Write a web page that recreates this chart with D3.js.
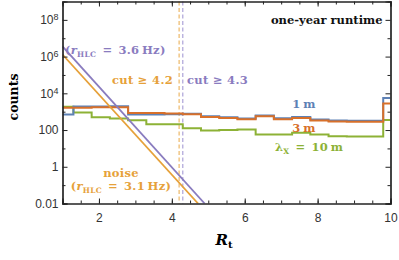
<!DOCTYPE html>
<html>
<head>
<meta charset="utf-8">
<script src="https://cdn.jsdelivr.net/npm/d3@7"></script>
<style>
  body { margin: 0; background: #fff; }
  .tickText { font-family: "Liberation Sans", Arial, sans-serif; font-size: 12px; fill: #333; }
  .lbl { font-family: "DejaVu Serif", serif; font-weight: bold; }
</style>
</head>
<body>
<div id="chart"></div>
<script>
// Histogram bins of R_t (edges), one count per bin
var binEdges = [1, 1.3, 1.8, 2.3, 2.8, 3.3, 3.8, 4.3, 4.8, 5.3, 5.8, 6.3, 6.8, 7.3, 7.8, 8.3, 8.8, 9.3, 9.8, 10];
var counts1m = [700, 1900, 1900, 1950, 700, 700, 720, 760, 560, 500, 420, 620, 440, 520, 370, 330, 320, 320, 5600];
var counts3m = [1650, 1650, 1750, 1750, 850, 850, 800, 720, 514, 460, 390, 560, 390, 460, 330, 290, 280, 280, 2800];
var counts10m = [1870, 900, 500, 426, 340, 205, 205, 125, 95, 100, 107, 58, 57, 72, 58, 46, 45, 45, 350];

// noise lines (straight on the log axis), end points
var noise36 = [[1, 3.6e6], [4.9, 0.01]];
var noise31 = [[1, 1.3e6], [4.72, 0.01]];

// cut values
var cutOrange = 4.2;
var cutPurple = 4.3;

// ticks
var xTickValues = [2, 4, 6, 8, 10];
var xMinorTicks = d3.range(1.5, 10, 0.5);
var yTickValues = [0.01, 1, 100, 1e4, 1e6, 1e8];
var yTickLabels = [["0.01", ""], ["1", ""], ["100", ""], ["10", "4"], ["10", "6"], ["10", "8"]];
var yMinorTicks = [0.1, 10, 1e3, 1e5, 1e7];

var width = 399;
var height = 260;
var plotL = 62.5, plotR = 390.5, plotT = 1.5, plotB = 203.5;

var blue = "#5e81b5";
var rust = "#d8702a";
var green = "#8db236";
var purple = "#8a7cbf";
var gold = "#e6a13a";

var svg = d3.select("#chart")
  .append("svg")
  .attr("width", width)
  .attr("height", height);

var xScale = d3.scaleLinear().domain([1, 10]).range([plotL, plotR]);
var yScale = d3.scaleLog().domain([0.01, 1e9]).range([plotB, plotT]);

svg.append("clipPath").attr("id", "plotClip")
  .append("rect")
  .attr("x", plotL).attr("y", plotT)
  .attr("width", plotR - plotL).attr("height", plotB - plotT);

// dashed cut lines
[[cutOrange, "#efbd72"], [cutPurple, "#b3aadb"]].forEach(function(c) {
  svg.append("line")
    .attr("x1", xScale(c[0])).attr("x2", xScale(c[0]))
    .attr("y1", plotT).attr("y2", plotB)
    .attr("stroke", c[1])
    .attr("stroke-width", 1.3)
    .attr("stroke-dasharray", "4,2.5");
});

// histograms as step lines
function stepData(counts) {
  var pts = counts.map(function(c, i) { return [binEdges[i], c]; });
  pts.push([binEdges[binEdges.length - 1], counts[counts.length - 1]]);
  return pts;
}
var stepLine = d3.line()
  .x(function(d) { return xScale(d[0]); })
  .y(function(d) { return yScale(d[1]); })
  .curve(d3.curveStepAfter);

var plot = svg.append("g").attr("clip-path", "url(#plotClip)");

[[counts10m, green], [counts1m, blue], [counts3m, rust]].forEach(function(h) {
  plot.append("path")
    .datum(stepData(h[0]))
    .attr("d", stepLine)
    .attr("fill", "none")
    .attr("stroke", h[1])
    .attr("stroke-width", 2);
});

// noise lines
var straight = d3.line()
  .x(function(d) { return xScale(d[0]); })
  .y(function(d) { return yScale(d[1]); });

[[noise31, gold], [noise36, purple]].forEach(function(n) {
  plot.append("path")
    .datum(n[0])
    .attr("d", straight)
    .attr("fill", "none")
    .attr("stroke", n[1])
    .attr("stroke-width", 1.8);
});

// frame and ticks
function frameAxis(axis, tx, ty) {
  var g = svg.append("g")
    .attr("transform", "translate(" + tx + "," + ty + ")")
    .call(axis);
  g.select(".domain").attr("stroke", "#222").attr("stroke-width", 1.2);
  g.selectAll(".tick line").attr("stroke", "#222");
  return g;
}

// minor ticks first (no labels)
frameAxis(d3.axisBottom(xScale).tickValues(xMinorTicks).tickSize(-3).tickFormat(""), 0, plotB);
frameAxis(d3.axisTop(xScale).tickValues(xMinorTicks).tickSize(-3).tickFormat(""), 0, plotT);
frameAxis(d3.axisLeft(yScale).tickValues(yMinorTicks).tickSize(-3).tickFormat(""), plotL, 0);
frameAxis(d3.axisRight(yScale).tickValues(yMinorTicks).tickSize(-3).tickFormat(""), plotR, 0);

var xAxisG = frameAxis(d3.axisBottom(xScale).tickValues(xTickValues).tickSize(-5).tickPadding(10), 0, plotB);
xAxisG.selectAll("text").attr("class", "tickText").attr("font-size", null).attr("font-family", null);
frameAxis(d3.axisTop(xScale).tickValues(xTickValues).tickSize(-5).tickFormat(""), 0, plotT);
frameAxis(d3.axisRight(yScale).tickValues(yTickValues).tickSize(-5).tickFormat(""), plotR, 0);

var yAxisG = frameAxis(d3.axisLeft(yScale).tickValues(yTickValues).tickSize(-5).tickPadding(7).tickFormat(""), plotL, 0);
yAxisG.selectAll(".tick").each(function(d, i) {
  var t = d3.select(this).select("text")
    .attr("class", "tickText")
    .attr("font-size", null).attr("font-family", null)
    .attr("x", -4);
  t.text(null);
  t.append("tspan").text(yTickLabels[i][0]);
  if (yTickLabels[i][1]) {
    t.append("tspan").attr("dy", "-0.45em").attr("font-size", "9px").text(yTickLabels[i][1]);
  }
});

// axis titles
svg.append("text")
  .attr("class", "lbl")
  .attr("transform", "translate(18,97) rotate(-90)")
  .attr("text-anchor", "middle")
  .attr("font-size", "12.5px")
  .text("counts");

var xTitle = svg.append("text")
  .attr("class", "lbl")
  .attr("x", 224).attr("y", 245)
  .attr("text-anchor", "middle")
  .attr("font-size", "15px");
xTitle.append("tspan").attr("font-style", "italic").text("R");
xTitle.append("tspan").attr("font-size", "10px").attr("dy", "3").text("t");

// annotations
svg.append("text").attr("class", "lbl")
  .attr("x", 382.5).attr("y", 24).attr("text-anchor", "end")
  .attr("font-size", "11.5px").attr("fill", "#111")
  .text("one-year runtime");

function addLabel(x, y, anchor, color, parts) {
  var t = svg.append("text").attr("class", "lbl")
    .attr("x", x).attr("y", y)
    .attr("text-anchor", anchor)
    .attr("font-size", "11.5px")
    .attr("letter-spacing", "0.3px")
    .attr("fill", color);
  parts.forEach(function(p) {
    var s = t.append("tspan").text(p.text);
    if (p.italic) s.attr("font-style", "italic");
    if (p.sub) s.attr("font-size", "7.5px").attr("dy", 2.5);
    if (p.up) s.attr("dy", -2.5);
  });
  return t;
}

addLabel(304, 108, "middle", blue, [{text: "1\u2009m"}]);
addLabel(304, 132, "middle", rust, [{text: "3\u2009m"}]);
addLabel(309, 151, "middle", green, [{text: "\u03bb"}, {text: "X", sub: true}, {text: "\u2002=\u200210\u2009m", up: true}]);
addLabel(173, 84, "end", gold, [{text: "cut \u2265 4.2"}]);
addLabel(187, 84, "start", purple, [{text: "cut \u2265 4.3"}]);
addLabel(65, 54, "start", purple, [{text: "("}, {text: "r", italic: true}, {text: "HLC", sub: true}, {text: "\u2002=\u20023.6\u2009Hz)", up: true}]);
addLabel(121, 176.5, "middle", gold, [{text: "noise"}]);
addLabel(121, 190, "middle", gold, [{text: "("}, {text: "r", italic: true}, {text: "HLC", sub: true}, {text: "\u2002=\u20023.1\u2009Hz)", up: true}]);
</script>
</body>
</html>
